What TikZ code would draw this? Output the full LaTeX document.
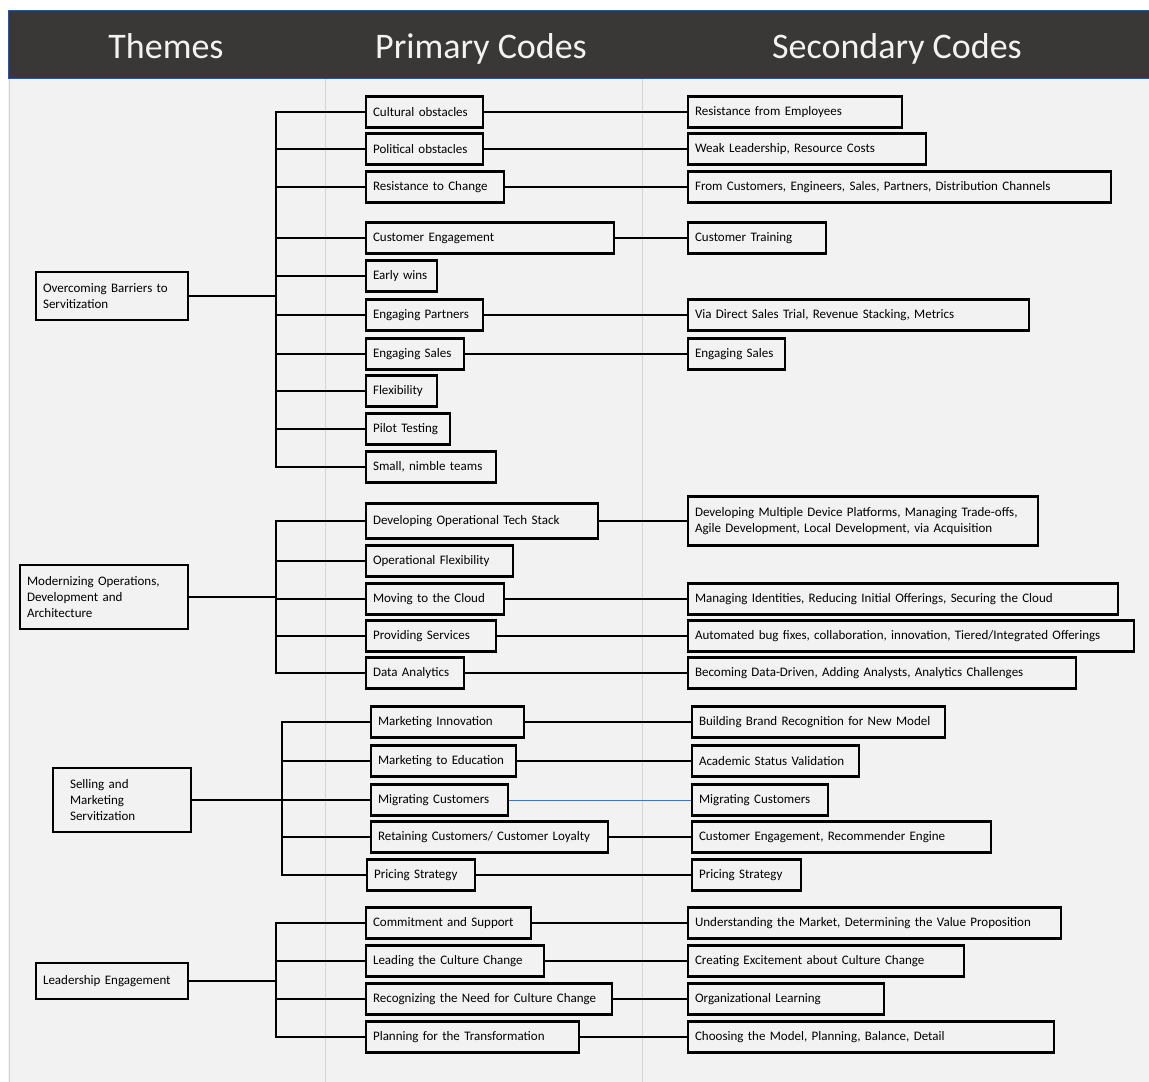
\documentclass[tikz,border=0pt]{standalone}
\usepackage{fontspec}
\setmainfont{Carlito}
\definecolor{headgray}{HTML}{3A3836}
\definecolor{bggray}{HTML}{F2F2F2}
\definecolor{divgray}{HTML}{D4D4D4}
\definecolor{headblue}{HTML}{2F5597}
\definecolor{linkblue}{HTML}{4472C4}

\tikzset{
  codebox/.style={draw, line width=2.1pt, anchor=west, align=left, inner xsep=7pt, inner ysep=2pt,
    minimum height=31pt, font=\fontsize{13}{16}\selectfont},
  themebox/.style={codebox},
  branch/.style={line width=1.8pt},
  themelink/.style={line width=2.8pt},
  headtext/.style={anchor=base, text=bggray, font=\fontsize{36}{40}\selectfont}
}

\begin{document}
\begin{tikzpicture}[x=1pt, y=-1pt]

  \useasboundingbox (0,0) rectangle (1149,1082);
  % Background and header
  \fill[white] (0,0) rectangle (1149,1082);
  \fill[bggray] (8,78) rectangle (1149,1082);
  \draw[divgray, line width=1pt] (9,78) -- (9,1082);
  \draw[divgray, line width=1pt] (325,78) -- (325,1082);
  \draw[divgray, line width=1pt] (642,78) -- (642,1082);
  \fill[headgray] (8,10) rectangle (1149,78);
  \draw[headblue, line width=1pt] (1149,10) -- (8,10) -- (8,78) -- (1149,78);
  \node[headtext] (hthemes) at (166,58) {Themes};
  \node[headtext] (hprimary) at (481,58) {Primary Codes};
  \node[headtext] (hsecondary) at (897,58) {Secondary Codes};

  % Overcoming barriers
  \node[themebox, text width=138pt, minimum height=48pt] (barriers) at (35,296) {Overcoming Barriers to\\Servitization};
  \coordinate (j1) at (276,296);
  \node[codebox, text width=103pt] (cultural) at (365,112) {Cultural obstacles};
  \node[codebox, text width=103pt] (political) at (365,149) {Political obstacles};
  \node[codebox, text width=124pt] (resist) at (365,187) {Resistance to Change};
  \node[codebox, text width=234pt] (custeng) at (365,238) {Customer Engagement};
  \node[codebox, text width=57pt] (early) at (365,276) {Early wins};
  \node[codebox, text width=103pt] (partners) at (365,315) {Engaging Partners};
  \node[codebox, text width=84pt] (sales) at (365,354) {Engaging Sales};
  \node[codebox, text width=57pt] (flex) at (365,391) {Flexibility};
  \node[codebox, text width=70pt] (pilot) at (365,429) {Pilot Testing};
  \node[codebox, text width=116pt] (nimble) at (365,467) {Small, nimble teams};
  \node[codebox, text width=200pt] (employees) at (687,112) {Resistance from Employees};
  \node[codebox, text width=224pt] (weaklead) at (687,149) {Weak Leadership, Resource Costs};
  \node[codebox, text width=409pt] (fromcust) at (687,187) {From Customers, Engineers, Sales, Partners, Distribution Channels};
  \node[codebox, text width=124pt] (training) at (687,238) {Customer Training};
  \node[codebox, text width=327pt] (viadirect) at (687,315) {Via Direct Sales Trial, Revenue Stacking, Metrics};
  \node[codebox, text width=83pt] (sales2) at (687,354) {Engaging Sales};
  \draw[themelink] (barriers.east) -- (j1);
  \foreach \p in {cultural,political,resist,custeng,early,partners,sales,flex,pilot,nimble}
    \draw[branch] (j1) |- (\p.west);
  \draw[branch] (cultural.east) -- (employees.west);
  \draw[branch] (political.east) -- (weaklead.west);
  \draw[branch] (resist.east) -- (fromcust.west);
  \draw[branch] (custeng.east) -- (training.west);
  \draw[branch] (partners.east) -- (viadirect.west);
  \draw[branch] (sales.east) -- (sales2.west);

  % Modernizing operations
  \node[themebox, text width=154pt, minimum height=64pt] (modern) at (19,597) {Modernizing Operations,\\Development and\\Architecture};
  \coordinate (j2) at (276,597);
  \node[codebox, text width=218pt, minimum height=35pt] (techstack) at (365,521) {Developing Operational Tech Stack};
  \node[codebox, text width=133pt] (opflex) at (365,561) {Operational Flexibility};
  \node[codebox, text width=124pt] (cloud) at (365,599) {Moving to the Cloud};
  \node[codebox, text width=116pt] (services) at (365,636) {Providing Services};
  \node[codebox, text width=84pt] (analytics) at (365,673) {Data Analytics};
  \node[codebox, text width=336pt, minimum height=49pt] (platforms) at (687,521) {Developing Multiple Device Platforms, Managing Trade-offs,\\Agile Development, Local Development, via Acquisition};
  \node[codebox, text width=416pt] (identities) at (687,599) {Managing Identities, Reducing Initial Offerings, Securing the Cloud};
  \node[codebox, text width=432pt] (bugfixes) at (687,636) {Automated bug fixes, collaboration, innovation, Tiered/Integrated Offerings};
  \node[codebox, text width=374pt] (datadriven) at (687,673) {Becoming Data-Driven, Adding Analysts, Analytics Challenges};
  \draw[themelink] (modern.east) -- (j2);
  \foreach \p in {techstack,opflex,cloud,services,analytics}
    \draw[branch] (j2) |- (\p.west);
  \draw[branch] (techstack.east) -- (platforms.west);
  \draw[branch] (cloud.east) -- (identities.west);
  \draw[branch] (services.east) -- (bugfixes.west);
  \draw[branch] (analytics.east) -- (datadriven.west);

  % Selling and marketing
  \node[themebox, inner xsep=17pt, text width=104pt, minimum height=64pt] (selling) at (52,800) {Selling and\\Marketing\\Servitization};
  \coordinate (j3) at (282,800);
  \node[codebox, text width=139pt] (mktinno) at (370,722) {Marketing Innovation};
  \node[codebox, text width=131pt] (mktedu) at (370,761) {Marketing to Education};
  \node[codebox, text width=123pt] (migrate) at (370,800) {Migrating Customers};
  \node[codebox, text width=223pt] (retain) at (370,837) {Retaining Customers/ Customer Loyalty};
  \node[codebox, text width=94pt] (pricing) at (366,875) {Pricing Strategy};
  \node[codebox, text width=239pt] (brand) at (691,722) {Building Brand Recognition for New Model};
  \node[codebox, text width=153pt] (academic) at (691,761) {Academic Status Validation};
  \node[codebox, text width=122pt] (migrate2) at (691,800) {Migrating Customers};
  \node[codebox, text width=285pt] (recommender) at (691,837) {Customer Engagement, Recommender Engine};
  \node[codebox, text width=95pt] (pricing2) at (691,875) {Pricing Strategy};
  \draw[themelink] (selling.east) -- (j3);
  \foreach \p in {mktinno,mktedu,migrate,retain,pricing}
    \draw[branch] (j3) |- (\p.west);
  \draw[branch] (mktinno.east) -- (brand.west);
  \draw[branch] (mktedu.east) -- (academic.west);
  \draw[linkblue, line width=1pt] (migrate.east) -- (migrate2.west);
  \draw[branch] (retain.east) -- (recommender.west);
  \draw[branch] (pricing.east) -- (pricing2.west);

  % Leadership
  \node[themebox, text width=138pt, minimum height=36pt] (leadership) at (35,981) {Leadership Engagement};
  \coordinate (j4) at (276,981);
  \node[codebox, text width=151pt] (commit) at (365,923) {Commitment and Support};
  \node[codebox, text width=164pt] (leading) at (365,961) {Leading the Culture Change};
  \node[codebox, text width=232pt] (recognize) at (365,999) {Recognizing the Need for Culture Change};
  \node[codebox, text width=199pt] (planning) at (365,1037) {Planning for the Transformation};
  \node[codebox, text width=359pt] (market) at (687,923) {Understanding the Market, Determining the Value Proposition};
  \node[codebox, text width=262pt] (excite) at (687,961) {Creating Excitement about Culture Change};
  \node[codebox, text width=182pt] (orglearn) at (687,999) {Organizational Learning};
  \node[codebox, text width=352pt] (choosing) at (687,1037) {Choosing the Model, Planning, Balance, Detail};
  \draw[themelink] (leadership.east) -- (j4);
  \foreach \p in {commit,leading,recognize,planning}
    \draw[branch] (j4) |- (\p.west);
  \draw[branch] (commit.east) -- (market.west);
  \draw[branch] (leading.east) -- (excite.west);
  \draw[branch] (recognize.east) -- (orglearn.west);
  \draw[branch] (planning.east) -- (choosing.west);

\end{tikzpicture}
\end{document}
